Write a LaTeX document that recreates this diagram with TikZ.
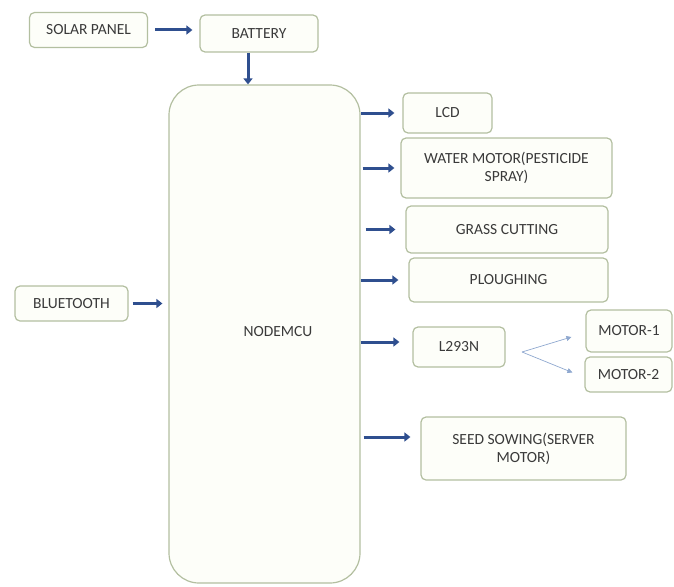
\documentclass[tikz,border=0pt]{standalone}
\usepackage{fontspec}
\setmainfont{Carlito}
\usetikzlibrary{arrows.meta}
\definecolor{boxline}{HTML}{B3BFA0}
\definecolor{boxfill}{HTML}{FDFEF9}
\definecolor{txt}{HTML}{3A3A3A}
\definecolor{arr}{HTML}{2F4F8F}
\definecolor{thin}{HTML}{8FA8CF}
\tikzset{
  blk/.style={draw=boxline, line width=1.2pt, fill=boxfill, rounded corners=5pt,
    text=txt, font=\fontsize{15.5}{18}\selectfont, align=center, inner sep=2pt},
  flow/.style={draw=arr, line width=3pt, -{Triangle[length=6pt,width=9pt]}},
  branch/.style={draw=thin, line width=0.7pt, -{Triangle[length=5pt,width=5pt]}}
}
\begin{document}
\begin{tikzpicture}[x=1pt,y=-1pt]
\useasboundingbox (0,0) rectangle (674,586);
\node[blk, minimum width=118pt, minimum height=35pt] (solar) at (88.5,30) {SOLAR PANEL};
\node[blk, minimum width=118pt, minimum height=37pt] (battery) at (259,33.5) {BATTERY};
\node[blk, rounded corners=30pt, minimum width=191pt, minimum height=498pt] (mcu) at (264.5,334) {};
\node[text=txt, font=\fontsize{15.5}{18}\selectfont] (mcutext) at (278,332) {NODEMCU};
\node[blk, minimum width=113pt, minimum height=35pt] (bt) at (71.5,303.5) {BLUETOOTH};
\node[blk, minimum width=89pt, minimum height=40pt] (lcd) at (447.5,113) {LCD};
\node[blk, minimum width=211pt, minimum height=60pt] (water) at (506.5,168) {WATER MOTOR(PESTICIDE\\SPRAY)};
\node[blk, minimum width=202pt, minimum height=47pt] (grass) at (507,229.5) {GRASS CUTTING};
\node[blk, minimum width=199pt, minimum height=44pt] (plough) at (508.5,280) {PLOUGHING};
\node[blk, minimum width=92pt, minimum height=40pt] (l293) at (459,347) {L293N};
\node[blk, minimum width=86pt, minimum height=42pt] (m1) at (629,331) {MOTOR-1};
\node[blk, minimum width=87pt, minimum height=35pt] (m2) at (628.5,374.5) {MOTOR-2};
\node[blk, minimum width=205pt, minimum height=63pt] (seed) at (523.5,448.5) {SEED SOWING(SERVER\\MOTOR)};
\coordinate (fork) at (522,352);
% connectors
\draw[flow] ([xshift=7pt]solar.east) -- ([xshift=-7pt]battery.west |- solar.east);
\draw[flow] (battery.south -| 248,0) -- (mcu.north -| 248,0);
\draw[flow] ([xshift=4pt]bt.east) -- ([xshift=-6pt]mcu.west |- bt.east);
\draw[flow] (mcu.east |- lcd.west) -- ([xshift=-8pt]lcd.west);
\draw[flow] ([xshift=2pt]mcu.east |- water.west) -- ([xshift=-6pt]water.west);
\draw[flow] ([xshift=5pt]mcu.east |- grass.west) -- ([xshift=-10pt]grass.west);
\draw[flow] (mcu.east |- plough.west) -- ([xshift=-10pt]plough.west);
\draw[flow] (mcu.east |- 0,342) -- ([xshift=-13pt]l293.west |- 0,342);
\draw[flow] ([xshift=3pt]mcu.east |- 0,437) -- ([xshift=-10pt]seed.west |- 0,437);
\draw[branch] (fork) -- ([xshift=-14pt,yshift=-6pt]m1.west);
\draw[branch] (fork) -- ([xshift=-12pt,yshift=2pt]m2.west);
\end{tikzpicture}
\end{document}
